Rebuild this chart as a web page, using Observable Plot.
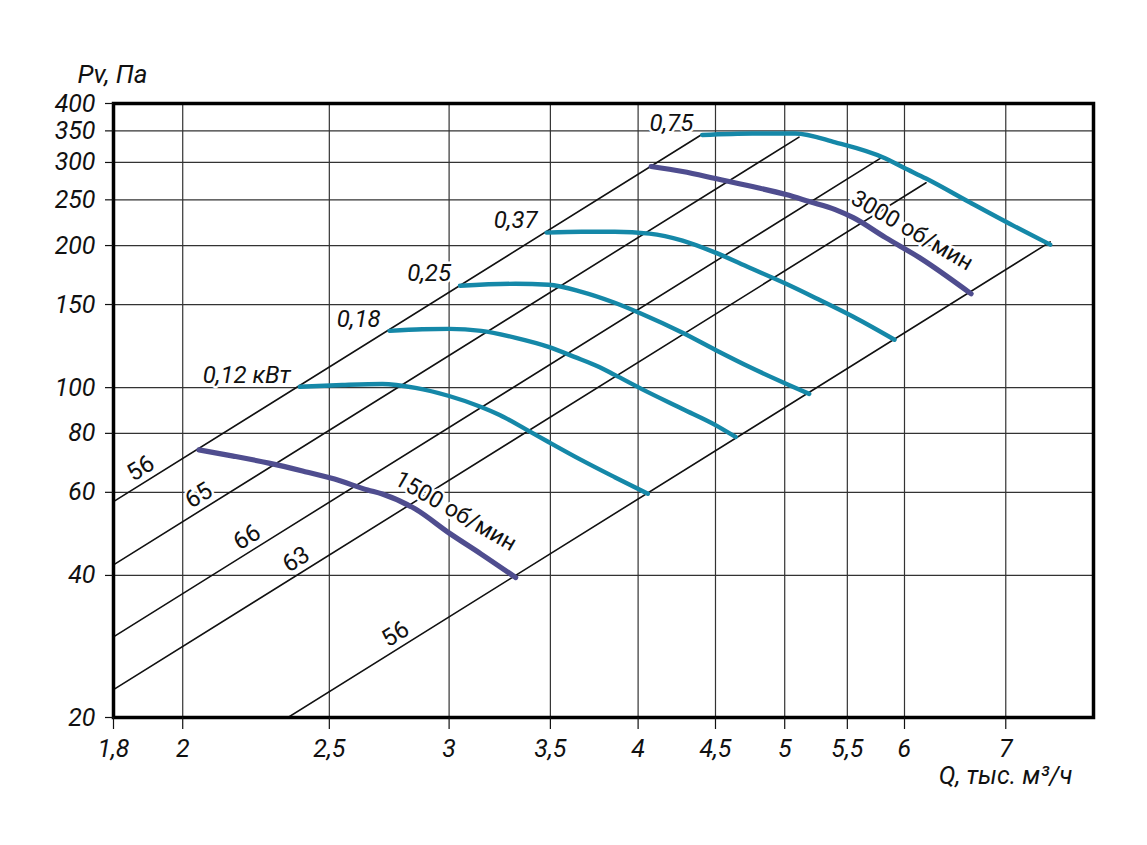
<!DOCTYPE html>
<html><head><meta charset="utf-8">
<script src="https://cdn.jsdelivr.net/npm/d3@7"></script>
<script src="https://cdn.jsdelivr.net/npm/@observablehq/plot@0.6"></script>
<style>html,body{margin:0;padding:0;background:#fff;overflow:hidden}</style>
</head><body><div id="chart"></div>
<script>
// ---- data ----
const xTicks = [1.8, 2, 2.5, 3, 3.5, 4, 4.5, 5, 5.5, 6, 7];
const yTicks = [20, 40, 60, 80, 100, 150, 200, 250, 300, 350, 400];

// power curves (Q, тыс. м3/ч ; Pv, Па)
const c012 = [[2.39,100.4],[2.55,101.3],[2.71,101.8],[2.85,99.9],[3.00,96.0],[3.15,91.0],[3.24,87.5],[3.37,81.7],[3.49,76.7],[3.67,70.2],[3.86,64.6],[4.06,59.6]];
const c018 = [[2.74,131.9],[2.88,133.0],[3.00,133.2],[3.15,131.9],[3.32,127.5],[3.49,122.0],[3.63,116.2],[3.77,110.6],[3.86,106.4],[4.02,99.4],[4.28,90.1],[4.50,83.3],[4.64,78.6]];
const c025 = [[3.05,164.4],[3.32,166.0],[3.49,165.2],[3.67,159.6],[3.86,151.3],[4.02,143.4],[4.28,130.7],[4.50,120.2],[4.74,110.6],[4.98,102.8],[5.19,97.0]];
const c037 = [[3.48,213.0],[3.67,214.0],[3.86,214.0],[4.07,212.0],[4.28,204.9],[4.50,193.2],[4.74,179.5],[5.01,166.0],[5.27,153.5],[5.55,141.3],[5.91,126.3]];
const c075 = [[4.41,343.0],[4.76,345.6],[5.08,345.6],[5.40,330.8],[5.83,305.8],[5.99,292.7],[6.20,277.4],[6.63,246.7],[7.08,220.4],[7.49,200.9]];
const powerNames = ["0,12 кВт", "0,18", "0,25", "0,37", "0,75"];
const powerCurves = [c012, c018, c025, c037, c075];

// speed curves
const c1500 = [[2.05,73.8],[2.16,71.6],[2.28,69.2],[2.40,66.6],[2.52,64.0],[2.65,60.7],[2.71,59.5],[2.85,55.3],[3.00,49.2],[3.15,44.4],[3.32,39.6]];
const c3000 = [[4.08,294.1],[4.28,287.0],[4.50,277.4],[4.76,266.7],[5.01,256.5],[5.19,247.9],[5.40,238.4],[5.55,229.2],[5.83,207.9],[6.14,188.5],[6.64,158.1]];
const speedNames = ["1500 об/мин", "3000 об/мин"];
const speedCurves = [c1500, c3000];
const speedLabelQ = [3.03, 6.07];
const speedLabelP = [54.7, 215.2];

// efficiency rays  Pv = k * Q^2
const rayK = [17.7, 13.0, 9.15, 7.07, 3.63];
const rayEndQ = [4.41, 5.11, 5.79, 6.20, 7.49];
const rayLabels = ["56", "65", "66", "63", "56"];
const rayLabelQ = [1.896, 2.071, 2.229, 2.402, 2.794];

// ---- layout ----
const W = 1147, H = 845;
const mL = 113, mR = 54, mT = 103, mB = 128;
const xDomain = [1.8, 8], yDomain = [20, 400];
const pxPerLnX = (W - mL - mR) / Math.log(xDomain[1] / xDomain[0]);
const pxPerLnY = (H - mT - mB) / Math.log(yDomain[1] / yDomain[0]);
const rayAngle = -Math.atan(2 * pxPerLnY / pxPerLnX) * 180 / Math.PI;

const teal = "#1588a8", purple = "#4f4d8f";
const fmt = d => String(d).replace(".", ",");

const powerRows = powerCurves.flatMap((c, i) => c.map(([Q, P]) => ({Q, P, name: powerNames[i]})));
const speedRows = speedCurves.flatMap((c, i) => c.map(([Q, P]) => ({Q, P, name: speedNames[i]})));
const rayRows = rayK.flatMap((k, i) => [xDomain[0], rayEndQ[i]].map(Q => ({Q, P: k * Q * Q, id: i})));
const rayLabelRows = rayK.map((k, i) => ({Q: rayLabelQ[i], P: k * rayLabelQ[i] ** 2, text: rayLabels[i]}));
const powerLabelRows = powerCurves.map((c, i) => ({Q: c[0][0], P: c[0][1], text: powerNames[i]}));
const speedLabelRows = speedNames.map((t, i) => ({Q: speedLabelQ[i], P: speedLabelP[i], text: t}));

const font = "Roboto, 'DejaVu Sans', sans-serif";

const chart = Plot.plot({
  width: W, height: H,
  marginLeft: mL, marginRight: mR, marginTop: mT, marginBottom: mB,
  style: {fontFamily: font, fontSize: "25px", fontStyle: "italic", color: "#111", background: "#fff"},
  x: {type: "log", domain: xDomain},
  y: {type: "log", domain: yDomain},
  marks: [
    Plot.gridX(xTicks, {stroke: "#333", strokeOpacity: 1, strokeWidth: 1.2}),
    Plot.gridY(yTicks, {stroke: "#333", strokeOpacity: 1, strokeWidth: 1.2}),
    Plot.line(rayRows, {x: "Q", y: "P", z: "id", stroke: "#111", strokeWidth: 1.6, clip: true}),
    Plot.text(rayLabelRows, {x: "Q", y: "P", text: "text", rotate: rayAngle, dx: -7, dy: -12,
      fontStyle: "normal", fontSize: 24, fill: "#111", stroke: "white", strokeWidth: 5, paintOrder: "stroke"}),
    Plot.line(powerRows, {x: "Q", y: "P", z: "name", stroke: teal, strokeWidth: 4.4, curve: "monotone-x"}),
    Plot.line(speedRows, {x: "Q", y: "P", z: "name", stroke: purple, strokeWidth: 5.2, curve: "monotone-x"}),
    Plot.text(powerLabelRows, {x: "Q", y: "P", text: "text", textAnchor: "end", dx: -9, dy: -12,
      fontSize: 24, fill: "#111", stroke: "white", strokeWidth: 5, paintOrder: "stroke"}),
    Plot.text(speedLabelRows, {x: "Q", y: "P", text: "text", rotate: 30,
      fontStyle: "normal", fontSize: 23, fill: "#111", stroke: "white", strokeWidth: 5, paintOrder: "stroke"}),
    Plot.frame({stroke: "#000", strokeWidth: 3.5}),
    Plot.axisX(xTicks, {tickSize: 12, tickPadding: 10, tickFormat: fmt, label: null, fontSize: 25, strokeWidth: 1.2}),
    Plot.axisY(yTicks, {tickSize: 8, tickPadding: 10, tickFormat: fmt, label: null, fontSize: 25, strokeWidth: 1.2}),
    Plot.text(["Pv, Па"], {frameAnchor: "top-left", textAnchor: "start", dx: -36, dy: -39, fontSize: 26}),
    Plot.text(["Q, тыс. м³/ч"], {frameAnchor: "bottom-right", textAnchor: "end", dx: -21, dy: 66, fontSize: 25})
  ]
});
document.getElementById("chart").append(chart);
</script>
</body></html>
